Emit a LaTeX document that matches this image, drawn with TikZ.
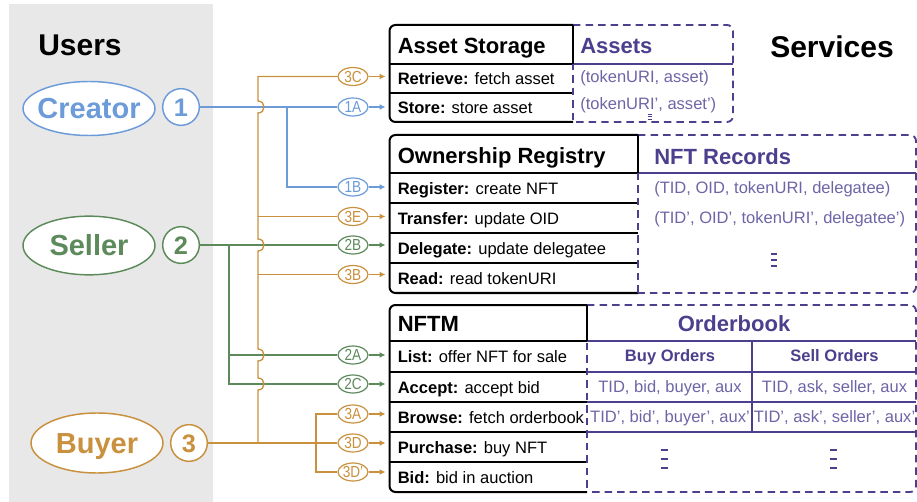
\documentclass[tikz,border=0pt]{standalone}
\usepackage{fontspec}
\setmainfont{Liberation Sans}
\usetikzlibrary{shapes.geometric,arrows.meta}

\definecolor{cBlue}{HTML}{6C9BDA}
\definecolor{cGreen}{HTML}{5D8A5B}
\definecolor{cOrange}{HTML}{C9903D}
\definecolor{cPurple}{HTML}{4C3F8D}
\definecolor{cPurpleL}{HTML}{6D65A6}
\definecolor{cGray}{HTML}{E8E8E8}

% font sizes
\newcommand\fsHead{\fontsize{22.5}{24}\selectfont\bfseries}
\newcommand\fsUser{\fontsize{21.75}{24}\selectfont\bfseries}
\newcommand\fsNum{\fontsize{19}{20}\selectfont\bfseries}
\newcommand\fsTitle{\fontsize{16.5}{18}\selectfont\bfseries}
\newcommand\fsRow{\fontsize{12.4}{14}\selectfont}
\newcommand\fsLbl{\fontsize{12}{13}\selectfont}

% narrow step tag text, centred in a zero-width box
\newcommand\tagtext[1]{\makebox[0pt]{\scalebox{0.85}[1]{#1}}}

% three stacked bars used as a "more rows" mark
\newcommand\vbars[3]{\vbox{\hrule width #1 height #2\vskip #3\hrule width #1 height #2\vskip #3\hrule width #1 height #2}}

\tikzset{
  headtxt/.style={inner sep=0pt, font=\fsHead, text height=16.1pt, text depth=0pt},
  usernode/.style={ellipse, line width=1.1pt, fill=white, inner sep=0pt, font=\fsUser, text height=15.6pt, text depth=0pt},
  numcirc/.style={circle, line width=1.1pt, fill=white, inner sep=0pt, minimum size=27.5pt, font=\fsNum, text height=13.6pt, text depth=0pt},
  lbl/.style={ellipse, line width=0.9pt, fill=white, inner sep=0pt, minimum width=22.5pt, minimum height=13.5pt, font=\fsLbl, text height=8.6pt, text depth=0pt},
  conn/.style={line width=1pt},
  flow/.style={line width=1pt, -{Latex[length=4.5pt,width=4.5pt]}, shorten >=3pt},
  boxedge/.style={line width=1.5pt, rounded corners=4.5pt},
  rowrule/.style={line width=1.1pt},
  dashedge/.style={draw=cPurple, line width=1.4pt, dash pattern=on 5.6pt off 3.8pt},
  sepline/.style={draw=cPurple, line width=1.1pt},
  titletxt/.style={anchor=west, inner xsep=6pt, inner ysep=0pt, font=\fsTitle, text height=11.8pt, text depth=0pt},
  rowtxt/.style={anchor=west, inner xsep=6pt, inner ysep=0pt, font=\fsRow, text height=8.9pt, text depth=0pt},
  dattxt/.style={inner sep=0pt, text=cPurpleL, font=\fsRow, text height=8.9pt, text depth=0pt},
  coltxt/.style={inner sep=0pt, text=cPurple, font=\fsRow\bfseries, text height=8.9pt, text depth=0pt},
  dots/.style={inner sep=0pt, text=cPurple},
}

\begin{document}
\begin{tikzpicture}[x=0.75pt, y=-0.75pt]
\useasboundingbox (0,0) rectangle (917,502);

% users column
\fill[cGray] (9,4) rectangle (213,502);
\node[headtxt] (users) at (80,45) {Users};
\node[headtxt] (services) at (832,46.5) {Services};

% ---------- Asset Storage ----------
\draw[boxedge] (573,25) -- (389.5,25) -- (389.5,122) -- (573,122);
\draw[rowrule] (389.5,64) -- (573,64) (389.5,93) -- (573,93);
\draw[sepline] (573,64) -- (733,64);
\draw[dashedge, rounded corners=4.5pt] (573,25) -- (733,25) -- (733,122) -- (573,122);
\draw[dashedge] (573,25) -- (573,122);
\draw[line width=1.5pt] (573,25) -- (573,64);

\node[titletxt] (tAS) at (389.5,46) {Asset Storage};
\node[rowtxt] (rRetrieve) at (389.5,78.5) {\textbf{Retrieve:} fetch asset};
\node[rowtxt] (rStore) at (389.5,108) {\textbf{Store:} store asset};
\node[titletxt, text=cPurple, inner xsep=0pt] (tAssets) at (580,46) {Assets};
\node[dattxt, anchor=west] (dA1) at (580,77) {(tokenURI, asset)};
\node[dattxt, anchor=west] (dA2) at (580,104) {(tokenURI', asset')};
\node[dots] (dA3) at (649.5,117) {\vbars{3pt}{0.75pt}{1pt}};

% ---------- Ownership Registry ----------
\draw[boxedge] (638,135) -- (389.5,135) -- (389.5,293) -- (638,293);
\draw[rowrule] (389.5,173) -- (638,173) (389.5,203) -- (638,203)
               (389.5,233) -- (638,233) (389.5,263) -- (638,263);
\draw[sepline] (638,173) -- (916,173);
\draw[dashedge, rounded corners=4.5pt] (638,135) -- (916,135) -- (916,293) -- (638,293);
\draw[dashedge] (638,135) -- (638,293);
\draw[line width=1.5pt] (638,135) -- (638,173);

\node[titletxt] (tOR) at (389.5,156) {Ownership Registry};
\node[rowtxt] (rRegister) at (389.5,188.5) {\textbf{Register:} create NFT};
\node[rowtxt] (rTransfer) at (389.5,218.5) {\textbf{Transfer:} update OID};
\node[rowtxt] (rDelegate) at (389.5,248.5) {\textbf{Delegate:} update delegatee};
\node[rowtxt] (rRead) at (389.5,278.5) {\textbf{Read:} read tokenURI};
\node[titletxt, text=cPurple, inner xsep=0pt] (tNR) at (654,156.5) {NFT Records};
\node[dattxt, anchor=west] (dN1) at (654,188) {(TID, OID, tokenURI, delegatee)};
\node[dattxt, anchor=west] (dN2) at (654,218) {(TID', OID', tokenURI', delegatee')};
\node[dots] (dN3) at (774,260) {\vbars{5pt}{1.5pt}{2.7pt}};

% ---------- NFTM ----------
\draw[boxedge] (587,305) -- (389.5,305) -- (389.5,492) -- (587,492);
\draw[rowrule] (389.5,341) -- (587,341) (389.5,372) -- (587,372)
               (389.5,402) -- (587,402) (389.5,432) -- (587,432)
               (389.5,462) -- (587,462);
\draw[sepline] (587,341) -- (916,341) (587,372) -- (916,372)
               (587,402) -- (916,402) (587,432) -- (916,432)
               (752,341) -- (752,432);
\draw[dashedge, rounded corners=4.5pt] (587,305) -- (916,305) -- (916,492) -- (587,492);
\draw[dashedge] (587,305) -- (587,492);
\draw[line width=1.5pt] (587,305) -- (587,341);

\node[titletxt] (tNF) at (389.5,323.5) {NFTM};
\node[rowtxt] (rList) at (389.5,357) {\textbf{List:} offer NFT for sale};
\node[rowtxt] (rAccept) at (389.5,387.5) {\textbf{Accept:} accept bid};
\node[rowtxt] (rBrowse) at (389.5,417.5) {\textbf{Browse:} fetch orderbook};
\node[rowtxt] (rPurchase) at (389.5,447.5) {\textbf{Purchase:} buy NFT};
\node[rowtxt] (rBid) at (389.5,477.5) {\textbf{Bid:} bid in auction};
\node[titletxt, anchor=center, inner sep=0pt, text=cPurple] (tOB) at (734,324) {Orderbook};
\node[coltxt] (hBuy) at (670,356) {Buy Orders};
\node[coltxt] (hSell) at (834.5,356) {Sell Orders};
\node[dattxt] (b1) at (670,387) {TID, bid, buyer, aux};
\node[dattxt] (b2) at (670,417) {TID', bid', buyer', aux'};
\node[dattxt] (s1) at (834.5,387) {TID, ask, seller, aux};
\node[dattxt] (s2) at (834.5,417) {TID', ask', seller', aux'};
\node[dots] (bd) at (664,459) {\vbars{5.25pt}{1.5pt}{5.25pt}};
\node[dots] (sd) at (833,459) {\vbars{5.25pt}{1.5pt}{5.25pt}};

% ---------- users ----------
\node[usernode, draw=cBlue, text=cBlue, minimum width=99pt, minimum height=40.5pt] (creator) at (89,108.5) {\makebox[0pt]{Creator}};
\node[usernode, draw=cGreen, text=cGreen, minimum width=99pt, minimum height=44pt] (seller) at (89,245.5) {\makebox[0pt]{Seller}};
\node[usernode, draw=cOrange, text=cOrange, minimum width=99pt, minimum height=45pt] (buyer) at (97,443) {\makebox[0pt]{Buyer}};
\node[numcirc, draw=cBlue, text=cBlue] (c1) at (181,107) {1};
\node[numcirc, draw=cGreen, text=cGreen] (c2) at (181,245) {2};
\node[numcirc, draw=cOrange, text=cOrange] (c3) at (189,443) {3};

% ---------- step tags ----------
\node[lbl, draw=cOrange, text=cOrange] (l3C) at (353,76.5) {\tagtext{3C}};
\node[lbl, draw=cBlue, text=cBlue] (l1A) at (353,107) {\tagtext{1A}};
\node[lbl, draw=cBlue, text=cBlue] (l1B) at (353,187) {\tagtext{1B}};
\node[lbl, draw=cOrange, text=cOrange] (l3E) at (353,216.5) {\tagtext{3E}};
\node[lbl, draw=cGreen, text=cGreen] (l2B) at (353,245) {\tagtext{2B}};
\node[lbl, draw=cOrange, text=cOrange] (l3B) at (353,274.5) {\tagtext{3B}};
\node[lbl, draw=cGreen, text=cGreen] (l2A) at (353,355) {\tagtext{2A}};
\node[lbl, draw=cGreen, text=cGreen] (l2C) at (353,384) {\tagtext{2C}};
\node[lbl, draw=cOrange, text=cOrange] (l3A) at (353,414) {\tagtext{3A}};
\node[lbl, draw=cOrange, text=cOrange] (l3D) at (353,443) {\tagtext{3D}};
\node[lbl, draw=cOrange, text=cOrange] (l3Dp) at (353,472) {\tagtext{3D'}};

% junction points of the connector trunks
\coordinate (oj) at (258,0 |- c3);
\coordinate (oj2) at (316,0 |- c3);
\coordinate (bj) at (287,0 |- c1);
\coordinate (gj) at (229,0 |- c2);

% ---------- connectors ----------
% creator
\draw[conn, cBlue] (c1.east) -- (l1A.west);
\draw[conn, cBlue] (bj) |- (l1B.west);
% seller
\draw[conn, cGreen] (c2.east) -- (l2B.west);
\draw[conn, cGreen] (gj) |- (l2C.west);
\draw[conn, cGreen] (gj |- l2A) -- (l2A.west);
% buyer: main trunk hops over the crossing lines
\draw[conn, cOrange] (c3.east) -- (l3D.west);
\draw[conn, cOrange] (oj) -- (258,390) .. controls +(8,0) and +(8,0) .. (258,378)
  -- (258,361) .. controls +(8,0) and +(8,0) .. (258,349)
  -- (258,251) .. controls +(8,0) and +(8,0) .. (258,239)
  -- (258,113) .. controls +(8,0) and +(8,0) .. (258,101)
  |- (l3C.west);
\draw[conn, cOrange] (oj |- l3E) -- (l3E.west);
\draw[conn, cOrange] (oj |- l3B) -- (l3B.west);
\draw[conn, cOrange] (l3A.west) -| (oj2) |- (l3Dp.west);

% ---------- arrows into the service operations ----------
\draw[flow, cOrange] (l3C.east) -- (l3C.east -| rRetrieve.west);
\draw[flow, cBlue]   (l1A.east) -- (l1A.east -| rStore.west);
\draw[flow, cBlue]   (l1B.east) -- (l1B.east -| rRegister.west);
\draw[flow, cOrange] (l3E.east) -- (l3E.east -| rTransfer.west);
\draw[flow, cGreen]  (l2B.east) -- (l2B.east -| rDelegate.west);
\draw[flow, cOrange] (l3B.east) -- (l3B.east -| rRead.west);
\draw[flow, cGreen]  (l2A.east) -- (l2A.east -| rList.west);
\draw[flow, cGreen]  (l2C.east) -- (l2C.east -| rAccept.west);
\draw[flow, cOrange] (l3A.east) -- (l3A.east -| rBrowse.west);
\draw[flow, cOrange] (l3D.east) -- (l3D.east -| rPurchase.west);
\draw[flow, cOrange] (l3Dp.east) -- (l3Dp.east -| rBid.west);
\end{tikzpicture}
\end{document}
